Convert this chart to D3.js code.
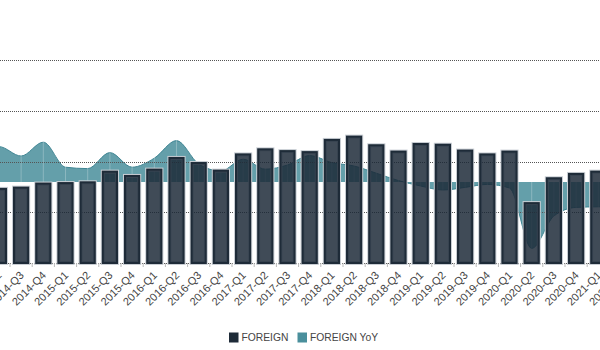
<!DOCTYPE html>
<html>
<head>
<meta charset="utf-8">
<script src="https://cdn.jsdelivr.net/npm/d3@7"></script>
<style>
  html, body { margin: 0; padding: 0; background: #fff; }
  svg { display: block; font-family: "Liberation Sans", Arial, Helvetica, sans-serif; }
</style>
</head>
<body>
<svg id="chart" width="600" height="350"></svg>
<script>
const categories = [
  "2014-Q1","2014-Q2","2014-Q3","2014-Q4",
  "2015-Q1","2015-Q2","2015-Q3","2015-Q4",
  "2016-Q1","2016-Q2","2016-Q3","2016-Q4",
  "2017-Q1","2017-Q2","2017-Q3","2017-Q4",
  "2018-Q1","2018-Q2","2018-Q3","2018-Q4",
  "2019-Q1","2019-Q2","2019-Q3","2019-Q4",
  "2020-Q1","2020-Q2","2020-Q3","2020-Q4",
  "2021-Q1","2021-Q2"
];
const foreign = [
  28.8, 29.2, 29.7, 31.3,
  31.5, 31.8, 36.0, 34.3,
  36.8, 41.4, 39.4, 36.4,
  42.8, 44.8, 44.1, 43.7,
  48.5, 49.8, 46.4, 43.9,
  46.9, 46.6, 44.3, 42.8,
  43.9, 23.6, 33.4, 35.1,
  36.0, 37.0
];
const foreignYoY = [
  16.0, 17.7, 13.0, 19.9,
  7.4, 6.7, 14.7, 7.4,
  11.9, 20.7, 9.0, 5.5,
  11.4, 6.4, 8.5, 13.2,
  9.7, 8.0, 4.4, 0.7,
  -2.0, -4.0, -2.7, -1.2,
  -3.0, -33.2, -17.0, -12.7,
  -12.4, -12.3
];
const seriesNames = ["FOREIGN", "FOREIGN YoY"];
const barTicks = [0, 20, 40, 60, 80];

const svg = d3.select("#chart");
const W = 600, H = 350;
const plotTop = 60, plotBottom = 263;

const step = 22.2;
const firstCenter = -1.1 - step; // centre of 2014-Q1
const pad = 0.36;
const x = d3.scaleBand()
  .domain(categories)
  .range([firstCenter - step / 2, firstCenter - step / 2 + step * categories.length])
  .paddingInner(pad)
  .paddingOuter(pad / 2);
const cx = d => x(d) + x.bandwidth() / 2;

const y = d3.scaleLinear().domain([0, 80]).range([plotBottom, plotTop]);
const y2 = d3.scaleLinear().domain([-40.5, 61]).range([plotBottom, plotTop]);

const root = svg.append("g");

// YoY area
const rows = categories.map((c, i) => ({ c, v: foreign[i], yoy: foreignYoY[i] }));
const area = d3.area()
  .x(d => cx(d.c))
  .y0(y2(0))
  .y1(d => y2(d.yoy))
  .curve(d3.curveMonotoneX);
const line = d3.line()
  .x(d => cx(d.c))
  .y(d => y2(d.yoy))
  .curve(d3.curveMonotoneX);

root.append("path").datum(rows)
  .attr("d", area)
  .attr("fill", "#4a8f9c")
  .attr("fill-opacity", 0.86);
root.append("path").datum(rows)
  .attr("d", line)
  .attr("fill", "none")
  .attr("stroke", "#3f8593")
  .attr("stroke-width", 1);

// faint vertical grid at category centres
root.append("g").selectAll("line").data(categories).join("line")
  .attr("x1", d => cx(d)).attr("x2", d => cx(d))
  .attr("y1", plotTop).attr("y2", plotBottom)
  .attr("stroke", "#ffffff").attr("stroke-opacity", 0.25).attr("stroke-width", 1);

// horizontal dotted grid
root.append("g").selectAll("line").data(barTicks).join("line")
  .attr("x1", 0).attr("x2", W)
  .attr("y1", d => Math.round(y(d)) + 0.5).attr("y2", d => Math.round(y(d)) + 0.5)
  .attr("stroke", "#555").attr("stroke-width", 1)
  .attr("stroke-dasharray", "1,1");

// bars
const bars = root.append("g");
bars.selectAll("rect.halo").data(rows).join("rect")
  .attr("class", "halo")
  .attr("x", d => x(d.c))
  .attr("y", d => y(d.v))
  .attr("width", x.bandwidth())
  .attr("height", d => y(0) - y(d.v))
  .attr("fill", "none")
  .attr("stroke", "#c9ced4")
  .attr("stroke-width", 4);
bars.selectAll("rect.bar").data(rows).join("rect")
  .attr("class", "bar")
  .attr("x", d => x(d.c))
  .attr("y", d => y(d.v))
  .attr("width", x.bandwidth())
  .attr("height", d => y(0) - y(d.v))
  .attr("fill", "#1c2837")
  .attr("fill-opacity", 0.84)
  .attr("stroke", "#1e2b38")
  .attr("stroke-width", 2);

// x axis ticks & labels
const xAxis = root.append("g");
xAxis.selectAll("line").data(categories).join("line")
  .attr("x1", d => cx(d) + step / 2).attr("x2", d => cx(d) + step / 2)
  .attr("y1", plotBottom).attr("y2", plotBottom + 4)
  .attr("stroke", "#bbb");
xAxis.selectAll("text").data(categories).join("text")
  .attr("transform", d => `translate(${cx(d) + 3.5},${plotBottom + 13}) rotate(-45)`)
  .attr("text-anchor", "end")
  .attr("font-size", 11)
  .attr("fill", "#444")
  .text(d => d);

// legend
const legendColors = ["#1e2b38", "#4a8f9c"];
const legendX = [229, 297.5];
const lg = root.append("g");
seriesNames.forEach((name, i) => {
  lg.append("rect")
    .attr("x", legendX[i]).attr("y", 332.5)
    .attr("width", 9.5).attr("height", 10)
    .attr("fill", legendColors[i]);
  lg.append("text")
    .attr("x", legendX[i] + 12.5).attr("y", 341.3)
    .attr("font-size", 10.3)
    .attr("fill", "#444")
    .text(name);
});
</script>
</body>
</html>
